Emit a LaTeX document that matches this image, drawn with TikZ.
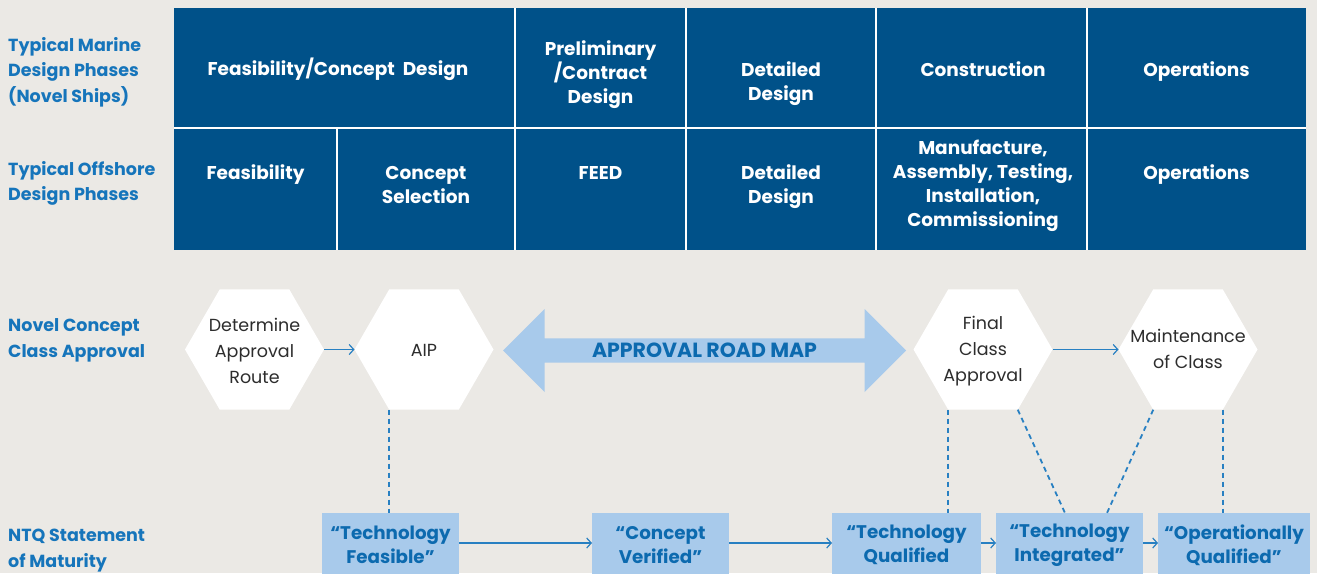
\documentclass[tikz,border=0pt]{standalone}
\usepackage{fontspec}
\setmainfont{Poppins}
\usetikzlibrary{shapes.geometric,shapes.arrows,arrows.meta,calc}
\definecolor{bgc}{RGB}{235,233,229}
\definecolor{darkblue}{RGB}{0,81,137}
\definecolor{lightblue}{RGB}{168,202,235}
\definecolor{textblue}{RGB}{12,106,175}
\definecolor{labelblue}{RGB}{22,117,187}
\definecolor{lineblue}{RGB}{40,128,194}
\definecolor{hexgray}{RGB}{45,45,45}
\begin{document}
\begin{tikzpicture}[x=1pt,y=-1pt,
  cell/.style={rectangle, fill=darkblue, inner sep=0pt, outer sep=0pt, anchor=north west},
  sep/.style={draw=white, line width=1.6pt},
  celltext/.style={text=white, align=center, inner sep=0pt, font=\bfseries\fontsize{18.5}{24}\selectfont},
  sidelabel/.style={text=labelblue, align=left, anchor=west, inner sep=0pt, font=\bfseries\fontsize{17.5}{25.5}\selectfont},
  hexa/.style={regular polygon, regular polygon sides=6, minimum size=139pt, inner sep=0pt, outer sep=0pt, fill=white},
  hextext/.style={text=hexgray, align=center, inner sep=0pt, font=\fontsize{17.5}{26}\selectfont},
  maturity/.style={rectangle, fill=lightblue, inner sep=0pt, outer sep=0pt, minimum height=64pt, text=textblue, align=center, font=\bfseries\fontsize{18.3}{24}\selectfont},
  conn/.style={draw=lineblue, line width=1.2pt, -{Straight Barb[length=4.5pt,width=10pt]}},
  dashline/.style={draw=lineblue, line width=1.8pt, dash pattern=on 5pt off 4pt}
]
\useasboundingbox (0,0) rectangle (1317,573);
\fill[bgc] (0,0) rectangle (1317,573);

% table cells
\node[cell, minimum width=341pt, minimum height=120pt] (c11) at (174,8) {};
\node[cell, minimum width=171pt, minimum height=120pt] (c12) at (515,8) {};
\node[cell, minimum width=190pt, minimum height=120pt] (c13) at (686,8) {};
\node[cell, minimum width=211pt, minimum height=120pt] (c14) at (876,8) {};
\node[cell, minimum width=219pt, minimum height=120pt] (c15) at (1087,8) {};
\node[cell, minimum width=163pt, minimum height=122pt] (c21) at (174,128) {};
\node[cell, minimum width=178pt, minimum height=122pt] (c22) at (337,128) {};
\node[cell, minimum width=171pt, minimum height=122pt] (c23) at (515,128) {};
\node[cell, minimum width=190pt, minimum height=122pt] (c24) at (686,128) {};
\node[cell, minimum width=211pt, minimum height=122pt] (c25) at (876,128) {};
\node[cell, minimum width=219pt, minimum height=122pt] (c26) at (1087,128) {};

% white separators
\draw[sep] (c21.north west) -- (c26.north east);
\draw[sep] (c11.north east) -- (c11.south east);
\draw[sep] (c12.north east) -- (c12.south east);
\draw[sep] (c13.north east) -- (c13.south east);
\draw[sep] (c14.north east) -- (c14.south east);
\draw[sep] (c21.north east) -- (c21.south east);
\draw[sep] (c22.north east) -- (c22.south east);
\draw[sep] (c23.north east) -- (c23.south east);
\draw[sep] (c24.north east) -- (c24.south east);
\draw[sep] (c25.north east) -- (c25.south east);

\node[celltext] (t11) at (338,69) {Feasibility/Concept~~Design};
\node[celltext] (t12) at (600.5,75) {Preliminary\\/Contract\\Design};
\node[celltext] (t13) at (781,84) {Detailed\\Design};
\node[celltext] (t14) at (983,69) {Construction};
\node[celltext] (t15) at (1196.5,72) {Operations};
\node[celltext] (t21) at (255.5,175) {Feasibility};
\node[celltext] (t22) at (426,185) {Concept\\Selection};
\node[celltext] (t23) at (600.5,173) {FEED};
\node[celltext] (t24) at (781,187) {Detailed\\Design};
\node[celltext] (t25) at (983,186) {Manufacture,\\Assembly, Testing,\\Installation,\\Commissioning};
\node[celltext] (t26) at (1196.5,175) {Operations};

% side labels
\node[sidelabel] (l1) at (8,72) {Typical Marine\\Design Phases\\(Novel Ships)};
\node[sidelabel] (l2) at (8,183.5) {Typical Offshore\\Design Phases};
\node[sidelabel] (l3) at (8,340.5) {Novel Concept\\Class Approval};
\node[sidelabel] (l4) at (8,550.5) {NTQ Statement\\of Maturity};

% hexagons
\node[hexa] (det) at (254.5,349.5) {};
\node[hexa] (aip) at (424,349.5) {};
\node[hexa] (fin) at (983,349.5) {};
\node[hexa] (mnt) at (1188,349.5) {};
\node[hextext] (det-t) at ([yshift=-1.5pt]det.center) {Determine\\Approval\\Route};
\node[hextext] (aip-t) at ([yshift=-1pt]aip.center) {AIP};
\node[hextext] (fin-t) at ([yshift=-2pt]fin.center) {Final\\Class\\Approval};
\node[hextext] (mnt-t) at ([yshift=0.5pt]mnt.center) {Maintenance\\of Class};

\draw[conn] (det.east) -- (aip.west);
\draw[conn] (fin.east) -- (mnt.west);

% road map arrow
\node[double arrow, fill=lightblue, minimum height=403pt, minimum width=83pt,
  double arrow head extend=18.5pt, inner sep=0pt, text=textblue,
  font=\bfseries\fontsize{20.5}{24}\selectfont] (road) at (704.5,350.5) {APPROVAL ROAD MAP};

% maturity boxes (run past the lower edge of the picture)
\node[maturity, minimum width=137pt] (b1) at (390.5,545) {“Technology\\Feasible”};
\node[maturity, minimum width=137pt] (b2) at (660.5,545) {“Concept\\Verified”};
\node[maturity, minimum width=149pt] (b3) at (906.5,545) {“Technology\\Qualified};
\node[maturity, minimum width=147pt] (b4) at (1069.5,545) {“Technology\\Integrated”};
\node[maturity, minimum width=152pt] (b5) at (1234,545) {“Operationally\\Qualified”};

\draw[conn] ([yshift=2pt]b1.east) -- ([yshift=2pt]b2.west);
\draw[conn] ([yshift=2pt]b2.east) -- ([yshift=2pt]b3.west);
\draw[conn] ([yshift=2pt]b3.east) -- ([yshift=2pt]b4.west);
\draw[conn] ([yshift=2pt]b4.east) -- ([yshift=2pt]b5.west);

% dashed links
\draw[dashline] (aip.240) -- (aip.240 |- b1.north);
\draw[dashline] (fin.240) -- (fin.240 |- b3.north);
\draw[dashline] (fin.300) -- ([xshift=-4.5pt]b4.north);
\draw[dashline] (mnt.240) -- ([xshift=37.5pt]b4.north);
\draw[dashline] (mnt.300) -- (mnt.300 |- b5.north);
\end{tikzpicture}
\end{document}
